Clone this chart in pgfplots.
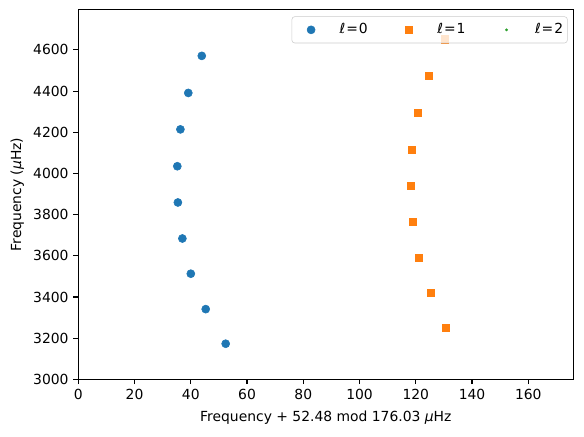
\documentclass[border=0pt]{standalone}
\usepackage{pgfplots}
\pgfplotsset{compat=1.18}
\usepackage{fontspec}
\setmainfont{DejaVu Sans}
\definecolor{tabblue}{HTML}{1F77B4}
\definecolor{taborange}{HTML}{FF7F0E}
\definecolor{tabgreen}{HTML}{2CA02C}
\pgfplotstableread{
x y
43.9 4571
39.1 4391
36.3 4214
35.2 4035
35.4 3859
37.0 3684
40.0 3513
45.3 3341
52.4 3173
}\lzero
\pgfplotstableread{
x y
130.4 4652
124.7 4474
120.8 4294
118.5 4115
118.2 3940
118.9 3765
121.0 3590
125.3 3420
130.7 3252
}\lone
\pgfplotsset{
  myimg/.style={legend image code/.code={\path[draw=none, fill=none, rounded corners=0pt] (-2.8pt,-3pt) rectangle (20pt,3pt); \draw[#1, fill opacity=1, draw opacity=1] plot coordinates {(10pt,0pt)};}},
}
\begin{document}
\fontsize{10}{12}\selectfont
\begin{tikzpicture}
\begin{axis}[
  at={(0,0)}, anchor=south west,
  scale only axis, width=356.4pt, height=266.1pt,
  xmin=0, xmax=176.03, ymin=3000, ymax=4795,
  xtick={0,20,...,160}, ytick={3000,3200,...,4600},
  xtick pos=bottom, ytick pos=left,
  tick align=outside, major tick length=3.5pt,
  tick style={line width=0.8pt, black},
  axis line style={line width=0.8pt},
  /pgf/number format/assume math mode=true,
  /pgf/number format/1000 sep={},
  ticklabel style={font=\fontsize{10}{12}\selectfont},
  label style={font=\fontsize{10}{12}\selectfont},
  xlabel={Frequency + 52.48 mod 176.03 {\itshape μ}Hz},
  ylabel={Frequency ({\itshape μ}Hz)},
  xlabel style={at={(axis description cs:0.5,-0.103)}, anchor=center},
  ylabel style={at={(axis description cs:-0.1232,0.5)}, anchor=center},
  legend columns=3,
  legend cell align=left,
  legend style={at={(1,1)}, anchor=north east, xshift=-4.1pt, yshift=-4.8pt,
    draw=black!20, rounded corners=2pt, fill=white, fill opacity=0.8, text opacity=1,
    font=\fontsize{10}{12}\selectfont, inner xsep=1pt, inner ysep=3pt,
    /tikz/every odd column/.append style={column sep=8.5pt},
    /tikz/every even column/.append style={column sep=14.8pt}},
]
\addplot[only marks, mark=*, mark size=2.9pt, color=tabblue, myimg] table[x=x,y=y] {\lzero};
\addlegendentry{{\itshape ℓ}\hspace{0.7pt}=\hspace{0.7pt}0}
\addplot[only marks, mark=square*, mark size=2.6pt, color=taborange, myimg] table[x=x,y=y] {\lone};
\addlegendentry{{\itshape ℓ}\hspace{0.7pt}=\hspace{0.7pt}1}
\addlegendimage{only marks, mark=*, mark size=0.8pt, color=tabgreen, myimg}
\addlegendentry{{\itshape ℓ}\hspace{0.7pt}=\hspace{0.7pt}2}
\end{axis}
\pgfresetboundingbox
\path[use as bounding box] (-56.4pt,-40.8pt) rectangle ++(420.48pt,313.92pt);
\end{tikzpicture}
\end{document}
